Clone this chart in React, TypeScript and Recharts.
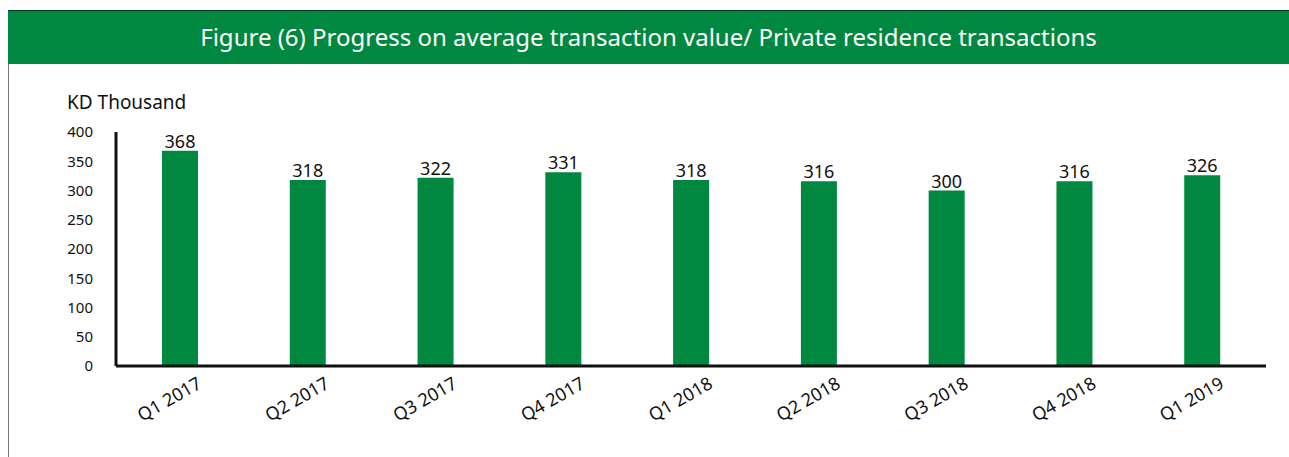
import React from 'react'
import { BarChart, Bar, XAxis, YAxis, LabelList } from 'recharts'

const quarters = [
  'Q1 2017',
  'Q2 2017',
  'Q3 2017',
  'Q4 2017',
  'Q1 2018',
  'Q2 2018',
  'Q3 2018',
  'Q4 2018',
  'Q1 2019',
]
const avgValue = [368, 318, 322, 331, 318, 316, 300, 316, 326]
const yTicks = [0, 50, 100, 150, 200, 250, 300, 350, 400]

const data = quarters.map((q, i) => ({ quarter: q, value: avgValue[i] }))

const GREEN = '#008840'
const FONT = '"Noto Sans", "Open Sans", sans-serif'

function QuarterTick(props: any) {
  const { x, y, payload } = props
  return (
    <text
      transform={`translate(${x + 23},${y + 21}) rotate(-30)`}
      textAnchor="end"
      fontSize={18}
      fontFamily={FONT}
      fill="#111"
    >
      {payload.value}
    </text>
  )
}

export default function App() {
  return (
    <div
      style={{
        position: 'absolute',
        left: 0,
        top: 0,
        width: 1289,
        height: 457,
        background: '#fff',
        fontFamily: FONT,
        overflow: 'hidden',
      }}
    >
      <div
        style={{
          position: 'absolute',
          left: 8,
          top: 63,
          width: 1,
          height: 394,
          background: '#777',
        }}
      />
      <div
        style={{
          position: 'absolute',
          left: 8,
          top: 10,
          width: 1281,
          height: 53,
          background: GREEN,
          borderTop: '1px solid #0a3a1e',
          color: '#fff',
          fontSize: 24,
          lineHeight: '52px',
          textAlign: 'center',
        }}
      >
        Figure (6) Progress on average transaction value/ Private residence transactions
      </div>
      <div
        style={{
          position: 'absolute',
          left: 67,
          top: 89,
          fontSize: 19,
          color: '#111',
        }}
      >
        KD Thousand
      </div>
      <div style={{ position: 'absolute', left: 0, top: 0 }}>
        <BarChart
          width={1289}
          height={457}
          data={data}
          margin={{ top: 132, right: 23, left: 0, bottom: 0 }}
          barCategoryGap={0}
        >
          <XAxis
            dataKey="quarter"
            height={91}
            tickLine={false}
            tickSize={0}
            tickMargin={0}
            axisLine={{ stroke: '#111', strokeWidth: 3 }}
            tick={<QuarterTick />}
            interval={0}
          />
          <YAxis
            width={116}
            domain={[0, 400]}
            ticks={yTicks}
            tickLine={false}
            tickSize={0}
            tickMargin={23}
            axisLine={{ stroke: '#111', strokeWidth: 3 }}
            tick={{ fontSize: 15, fill: '#111', fontFamily: FONT }}
          />
          <Bar dataKey="value" fill={GREEN} barSize={36} isAnimationActive={false}>
            <LabelList
              dataKey="value"
              position="top"
              offset={3}
              fill="#111"
              fontSize={18}
              fontFamily={FONT}
            />
          </Bar>
        </BarChart>
      </div>
    </div>
  )
}
